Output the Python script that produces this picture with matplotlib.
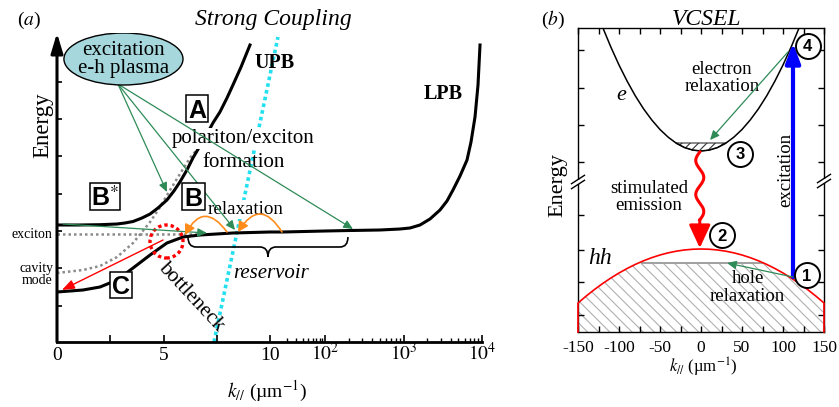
import numpy as np
import matplotlib
matplotlib.use('Agg')
import matplotlib.pyplot as plt
from matplotlib.patches import Ellipse, Rectangle, PathPatch
from matplotlib.path import Path
from matplotlib.lines import Line2D
import matplotlib.transforms as mtransforms

plt.rcParams['font.family'] = ['Liberation Serif', 'DejaVu Serif']
plt.rcParams['mathtext.fontset'] = 'stix'
plt.rcParams['hatch.linewidth'] = 0.8

# ---------------- data: panel (a) strong coupling ----------------
upb_k = [0, 1.0, 2.02, 2.82, 3.19, 3.57, 3.99, 4.37, 4.74, 5.16, 5.49, 5.77, 6.10,
         6.38, 6.71, 7.04, 7.32, 7.65, 7.98, 8.26, 8.64, 9.06]
upb_E = [117, 117, 117.3, 118, 119, 120.5, 124, 128, 134, 142, 151, 160, 172,
         184, 196, 208, 219, 230, 244, 257, 275, 297]

lpb_k = [0, 1.22, 2.02, 2.82, 3.57, 4.37, 5.16, 5.92, 6.71, 8.26, 10, 17.2, 100,
         208, 502, 903, 1211, 1622, 2175, 2917, 3581, 4270, 5248, 6442, 7244,
         8146, 8895, 9435]
lpb_E = [50, 52, 55, 62, 74, 87, 99, 105, 107, 109, 110, 110, 111,
         111.5, 112, 113, 114, 117, 123, 132, 141, 152, 166, 182, 200,
         225, 257, 297]

cav_k = [0, 1.22, 2.02, 2.82, 3.57, 4.37, 4.84, 5.31, 5.77, 6.24, 6.55]
cav_E = [69, 72, 76, 85, 99, 120, 135, 152, 168, 184, 192]

exc_k = [0, 7.0]
exc_E = [108, 108]

cyan_k = [7.37, 13.97]
cyan_E = [0, 305]

xa_major = [0, 2.5, 5, 7.5, 10, 100, 1000, 10000]
xa_labels = ['0', '', '5', '', '10', r'$10^{2}$', r'$10^{3}$', r'$10^{4}$']
xa_minor = [20, 30, 40, 50, 60, 70, 80, 90, 200, 300, 400, 500, 600, 700, 800, 900,
            2000, 3000, 4000, 5000, 6000, 7000, 8000, 9000]
ya_ticks = [36, 74, 111, 148, 186, 223, 260]

# ---------------- data: panel (b) VCSEL ----------------
e_k = [-130, -120, -110, -100, -90, -80, -70, -60, -50, -40, -30, -20, -10, 0,
       10, 20, 30, 40, 50, 60, 70, 80, 90, 100, 110, 120, 130]
e_E = [326.3, 304.8, 285.1, 267.0, 250.7, 236.0, 223.1, 212.0, 202.5, 194.8, 188.7, 184.4, 181.9, 181,
       181.9, 184.4, 188.7, 194.8, 202.5, 212.0, 223.1, 236.0, 250.7, 267.0, 285.1, 304.8, 326.3]
e_fill_top = 189

hh_k = [-150, -140, -130, -120, -110, -100, -90, -80, -70, -60, -50, -40, -30, -20, -10, 0,
        10, 20, 30, 40, 50, 60, 70, 80, 90, 100, 110, 120, 130, 140, 150]
hh_E = [29.0, 35.96, 42.44, 48.44, 53.96, 59.0, 63.56, 67.64, 71.24, 74.36, 77.0, 79.16, 80.84, 82.04, 82.76, 83,
        82.76, 82.04, 80.84, 79.16, 77.0, 74.36, 71.24, 67.64, 63.56, 59.0, 53.96, 48.44, 42.44, 35.96, 29.0]
hole_k = [-72, 76]
hole_E = [69, 69]

xb_major = [-150, -100, -50, 0, 50, 100, 150]
xb_labels = ['-150', '-100', '-50', '0', '50', '100', '150']
xb_minor = [-125, -75, -25, 25, 75, 125]
yb_ticks = [17, 50, 82, 117, 170, 207, 244, 282]

# ---------------- figure ----------------
W, H = 839, 407
fig = plt.figure(figsize=(W / 100, H / 100), dpi=100, facecolor='white')

D1 = 55 / 21.3
D2 = 78.5 / 21.3


def fwd(x):
    x = np.asarray(x, dtype=float)
    a = 10 + D1 * np.log10(np.clip(x, 10, 100) / 10)
    b = 10 + D1 + D2 * np.log10(np.clip(x, 100, None) / 100)
    return np.where(x <= 10, x, np.where(x <= 100, a, b))


def inv(u):
    u = np.asarray(u, dtype=float)
    a = 10 * 10 ** ((np.clip(u, 10, 10 + D1) - 10) / D1)
    b = 100 * 10 ** ((np.clip(u, 10 + D1, 40) - 10 - D1) / D2)
    return np.where(u <= 10, u, np.where(u <= 10 + D1, a, b))


GREEN = '#2e8b57'
ORANGE = '#ff8c1a'
CYAN = '#22e0f0'
GRAY = '#8a8a8a'


def arrow(ax, start, end, color, lw=0.9, hl=0.55, hw=0.25, conn='arc3,rad=0', z=4):
    ax.annotate('', xy=end, xytext=start,
                arrowprops=dict(arrowstyle='-|>,head_length=%g,head_width=%g' % (hl, hw),
                                color=color, lw=lw, shrinkA=0, shrinkB=0,
                                mutation_scale=10, connectionstyle=conn),
                annotation_clip=False, zorder=z)


def boxed(ax, x, y, wpx, hpx, text, fs=18):
    tr = fig.dpi_scale_trans + mtransforms.ScaledTranslation(x, y, ax.transData)
    ax.add_patch(Rectangle((-wpx / 200, -hpx / 200), wpx / 100, hpx / 100, transform=tr,
                           fc='white', ec='k', lw=1.1, zorder=5, clip_on=False))
    ax.annotate(text, xy=(x, y), xytext=(0, -0.729 * fs / 2), textcoords='offset points',
                ha='center', va='baseline', fontsize=fs, fontfamily='Liberation Sans',
                fontweight='bold', zorder=6, annotation_clip=False)


def circled(ax, x, y, text):
    ax.plot([x], [y], 'o', ms=18, mfc='white', mec='k', mew=1.4, clip_on=False, zorder=6)
    ax.annotate(text, xy=(x, y), xytext=(0, -4.3), textcoords='offset points',
                ha='center', va='baseline', fontsize=12, fontfamily='Liberation Sans',
                fontweight='bold', zorder=7, annotation_clip=False)


# ================= panel (a) =================
axA = fig.add_axes([57 / W, (H - 342) / H, 425 / W, 309 / H])
axA.set_xscale('function', functions=(fwd, inv))
axA.set_xlim(0, 1e4)
axA.set_ylim(0, 309)
axA.patch.set_alpha(0)

axA.plot(cav_k, cav_E, color=GRAY, lw=1.8, ls=(0, (1, 1.2)), zorder=2)
axA.plot(exc_k, exc_E, color=GRAY, lw=1.8, ls=(0, (1, 1.2)), zorder=2)
axA.plot(cyan_k, cyan_E, color=CYAN, lw=2.6, ls=(0, (1, 0.9)), zorder=1.5, clip_on=False)
axA.plot(upb_k, upb_E, color='k', lw=2.2, zorder=2.2)
axA.plot(lpb_k, lpb_E, color='k', lw=2.2, zorder=2.2)

for s in ['top', 'right', 'left']:
    axA.spines[s].set_visible(False)
axA.spines['bottom'].set_linewidth(2.0)
axA.set_xticks(xa_major, labels=xa_labels)
axA.set_xticks(xa_minor, minor=True)
axA.tick_params(axis='x', which='major', direction='in', length=5, width=1.2,
                labelsize=14, pad=13)
axA.tick_params(axis='x', which='minor', direction='in', length=3.2, width=1.0)
axA.set_yticks(ya_ticks, labels=[])
axA.tick_params(axis='y', direction='in', length=3.5, width=1.2)
for lab in axA.get_xticklabels():
    lab.set_verticalalignment('baseline')

# y axis arrow
axA.annotate('', xy=(0, 1), xytext=(0, 0), xycoords='axes fraction',
             arrowprops=dict(arrowstyle='-|>,head_length=1.2,head_width=0.36', lw=2.2,
                             color='k', shrinkA=0, shrinkB=0, mutation_scale=10),
             annotation_clip=False, zorder=5)

# plasma ellipse
axA.add_patch(Ellipse((3.12, 283), 5.59, 52, fc='#a6d7dc', ec='k', lw=1.0, zorder=4.5))
axA.text(3.12, 287, 'excitation', ha='center', va='baseline', fontsize=15, zorder=5)
axA.text(3.12, 269, 'e-h plasma', ha='center', va='baseline', fontsize=15, zorder=5)

# green arrows
arrow(axA, (2.86, 258), (5.16, 150), GREEN)
arrow(axA, (2.86, 258), (8.36, 112), GREEN)
arrow(axA, (2.86, 258), (227, 113), GREEN)
arrow(axA, (0.28, 118), (7.04, 109), GREEN)
# red arrow to ground state
arrow(axA, (4.98, 102), (0.23, 52), 'red', lw=1.0, hl=0.75, hw=0.28)
# orange relaxation arcs
arrow(axA, (7.98, 110), (6.01, 107), ORANGE, lw=1.2, hl=0.6, hw=0.32, conn='arc3,rad=0.8')
arrow(axA, (16.5, 110), (8.50, 110), ORANGE, lw=1.2, hl=0.6, hw=0.32, conn='arc3,rad=0.8')

# bottleneck dotted circle
axA.add_patch(Ellipse((5.14, 100.5), 1.55, 33, fill=False, ec='red', lw=2.4,
                      ls=(0, (1, 0.9)), zorder=3))


# reservoir brace
def brace(ax, k0, k1, y, d=20, r=10, c=8):
    x0, yy = ax.transData.transform((k0, y))
    x1, _ = ax.transData.transform((k1, y))
    xm = (x0 + x1) / 2
    verts = [(x0, yy), (x0, yy - r), (x0 + c, yy - r), (xm - c, yy - r),
             (xm, yy - r), (xm, yy - d), (xm, yy - r), (xm + c, yy - r),
             (x1 - c, yy - r), (x1, yy - r), (x1, yy)]
    codes = [Path.MOVETO, Path.CURVE3, Path.CURVE3, Path.LINETO, Path.CURVE3, Path.CURVE3,
             Path.CURVE3, Path.CURVE3, Path.LINETO, Path.CURVE3, Path.CURVE3]
    fig.add_artist(PathPatch(Path(verts, codes), fill=False, ec='k', lw=1.2,
                             transform=mtransforms.IdentityTransform(), zorder=4))


brace(axA, 6.15, 196, 105)

# labels panel (a)
boxed(axA, 6.57, 233.5, 22, 27, 'A')
boxed(axA, 6.41, 145.5, 23, 27, 'B')
boxed(axA, 2.25, 145.5, 30, 27, r'B$^{*}$')
boxed(axA, 3.00, 57, 22, 26, 'C')

axA.text(12.3, 274, 'UPB', ha='center', va='baseline', fontsize=14.5, fontweight='bold', zorder=5)
axA.text(3184, 243, 'LPB', ha='center', va='baseline', fontsize=14.5, fontweight='bold', zorder=5)
axA.text(8.76, 199, 'polariton/exciton', ha='center', va='baseline', fontsize=15, zorder=3,
         bbox=dict(fc='white', ec='none', pad=1))
axA.text(8.78, 175, 'formation', ha='center', va='baseline', fontsize=15, zorder=3)
axA.text(8.83, 128, 'relaxation', ha='center', va='baseline', fontsize=13.7, zorder=3,
         bbox=dict(fc='white', ec='none', pad=1))
axA.text(10.64, 64, 'reservoir', ha='center', va='baseline', fontsize=15, style='italic', zorder=5)
axA.text(6.29, 45, 'bottleneck', ha='center', va='center', fontsize=15, rotation=-47, zorder=5)
axA.text(-1.17, 104, 'exciton', ha='center', va='baseline', fontsize=10, zorder=5)
axA.text(-0.94, 70, 'cavity', ha='center', va='baseline', fontsize=10, zorder=5)
axA.text(-0.94, 58, 'mode', ha='center', va='baseline', fontsize=10, zorder=5)
axA.text(-0.034, 0.702, 'Energy', rotation=90, ha='center', va='center', fontsize=16.5,
         transform=axA.transAxes)
axA.text(0.494, -0.178, r'$k_{//}$ (µm$^{-1}$)', ha='center', va='baseline', fontsize=14,
         transform=axA.transAxes)

fig.text(29.5 / W, 1 - 25 / H, r'($a$)', ha='center', va='baseline', fontsize=14)
fig.text(273 / W, 1 - 25 / H, 'Strong Coupling', ha='center', va='baseline', fontsize=17,
         style='italic')

# ================= panel (b) =================
axB = fig.add_axes([578 / W, (H - 332) / H, 246 / W, 304 / H])
axB.set_xlim(-150, 150)
axB.set_ylim(0, 304)

axB.fill_between(hh_k, 0, np.minimum(hh_E, hole_E[0]), facecolor='white', edgecolor='#b0b0b0',
                 hatch='\\\\\\', lw=0, zorder=1)
axB.plot(hole_k, hole_E, color='#a0a0a0', lw=1.4, zorder=2)
axB.plot([-150] + hh_k + [150], [0] + hh_E + [0], color='red', lw=1.2, zorder=3, clip_on=False)

e_arr = np.array(e_E)
axB.fill_between(e_k, e_E, e_fill_top, where=e_arr <= e_fill_top, interpolate=True,
                 facecolor='white', edgecolor='#333333', hatch='////', lw=0.8, zorder=1)
axB.plot(e_k, e_E, color='k', lw=1.1, zorder=2)

for s in axB.spines.values():
    s.set_linewidth(1.0)
axB.set_xticks(xb_major, labels=xb_labels)
axB.set_xticks(xb_minor, minor=True)
axB.tick_params(axis='x', which='both', direction='in', top=True, length=4.5, width=1.0,
                labelsize=12.5, pad=14.4)
axB.set_yticks(yb_ticks, labels=[])
axB.tick_params(axis='y', direction='in', right=True, length=4.5, width=1.0)
for lab in axB.get_xticklabels():
    lab.set_verticalalignment('baseline')


def break_mark(ax, xfrac, yfrac):
    base = fig.dpi_scale_trans + mtransforms.ScaledTranslation(xfrac, yfrac, ax.transAxes)
    ax.add_patch(Rectangle((-0.03, -0.021), 0.06, 0.042, transform=base, fc='white',
                           ec='none', zorder=3, clip_on=False))
    for off in (-0.025, 0.025):
        ax.add_line(Line2D([-0.065, 0.065], [off - 0.042, off + 0.042], transform=base,
                           color='k', lw=1.0, clip_on=False, zorder=4))


break_mark(axB, 0, 150 / 304)
break_mark(axB, 1, 151 / 304)

# stimulated emission wavy arrow
wave_y = np.linspace(180, 112, 240)
wave_x = -1.5 - 4.9 * np.sin(2 * np.pi * (180 - wave_y) / 34)
axB.plot(wave_x, wave_y, color='red', lw=2.2, zorder=4)
arrow(axB, (-1.5, 112.5), (-1.5, 84), 'red', lw=2.2, hl=1.4, hw=0.65, z=4)

# excitation blue arrow
arrow(axB, (112.2, 55), (112.2, 289), '#0000ff', lw=3.0, hl=1.2, hw=0.45, z=4)
# relaxation arrows
arrow(axB, (106, 280), (11, 192), GREEN)
arrow(axB, (112.2, 55), (31.7, 69), GREEN)

circled(axB, 129.9, 286.5, '4')
circled(axB, 47.6, 178.5, '3')
circled(axB, 25.6, 97, '2')
circled(axB, 129.3, 57, '1')

axB.text(-97.6, 232, 'e', ha='center', va='baseline', fontsize=16, style='italic')
axB.text(25.6, 258, 'electron', ha='center', va='baseline', fontsize=13.5)
axB.text(25.6, 241, 'relaxation', ha='center', va='baseline', fontsize=13.5)
axB.text(-63.4, 139, 'stimulated', ha='center', va='baseline', fontsize=13.5)
axB.text(-63.4, 122, 'emission', ha='center', va='baseline', fontsize=13.5)
axB.text(103.7, 162, 'excitation', ha='center', va='center', fontsize=13.5, rotation=90)
axB.text(-123.2, 68, 'hh', ha='center', va='baseline', fontsize=17, style='italic')
axB.text(56.7, 49, 'hole', ha='center', va='baseline', fontsize=13.5)
axB.text(56.7, 31, 'relaxation', ha='center', va='baseline', fontsize=13.5)
axB.text(-0.081, 0.484, 'Energy', rotation=90, ha='center', va='center', fontsize=16,
         transform=axB.transAxes)
axB.text(0.508, -0.135, r'$k_{//}$ (µm$^{-1}$)', ha='center', va='baseline', fontsize=12,
         transform=axB.transAxes)

fig.text(552.5 / W, 1 - 25 / H, r'($b$)', ha='center', va='baseline', fontsize=14)
fig.text(707 / W, 1 - 25 / H, 'VCSEL', ha='center', va='baseline', fontsize=17, style='italic')

fig.savefig('out.png', dpi=100, facecolor='white')
